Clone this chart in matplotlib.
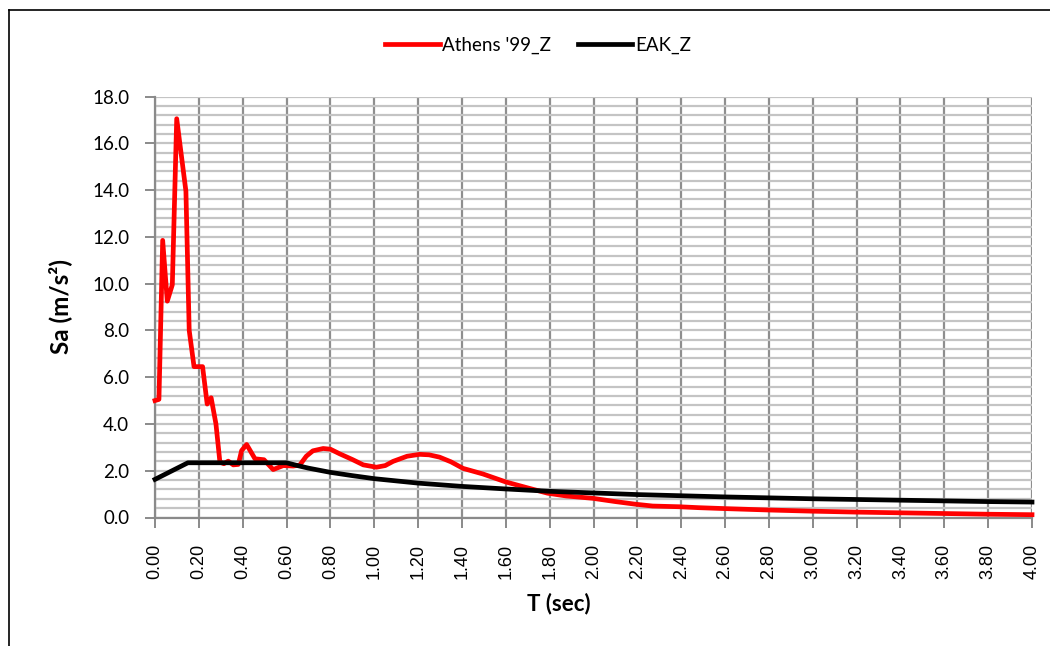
import matplotlib
matplotlib.use("Agg")
import matplotlib.pyplot as plt
from matplotlib.lines import Line2D
from matplotlib.ticker import MultipleLocator, FormatStrFormatter

# Vertical response spectrum of the Athens 1999 record
athens_T = [0.000, 0.018, 0.035, 0.056, 0.079, 0.099, 0.141, 0.156, 0.178, 0.217,
            0.238, 0.256, 0.278, 0.296, 0.314, 0.334, 0.357, 0.380, 0.395, 0.418,
            0.456, 0.497, 0.539, 0.585, 0.630, 0.660, 0.690, 0.720, 0.767, 0.800,
            0.843, 0.900, 0.950, 1.010, 1.050, 1.086, 1.150, 1.207, 1.250, 1.298,
            1.350, 1.405, 1.496, 1.600, 1.710, 1.790, 1.876, 1.997, 2.100, 2.190,
            2.270, 2.390, 2.480, 2.600, 2.800, 3.000, 3.200, 3.400, 3.600, 3.800,
            4.000]
athens_Sa = [5.00, 5.05, 11.85, 9.25, 9.95, 17.05, 13.95, 8.00, 6.45, 6.45,
             4.85, 5.12, 4.00, 2.37, 2.30, 2.41, 2.25, 2.27, 2.86, 3.12,
             2.51, 2.47, 2.05, 2.22, 2.20, 2.24, 2.62, 2.85, 2.95, 2.92,
             2.72, 2.48, 2.25, 2.15, 2.22, 2.40, 2.62, 2.70, 2.68, 2.58,
             2.38, 2.10, 1.86, 1.52, 1.24, 1.04, 0.92, 0.82, 0.68, 0.57,
             0.49, 0.46, 0.42, 0.38, 0.32, 0.27, 0.23, 0.20, 0.17, 0.14,
             0.12]

# Design spectrum (EAK 2000, vertical component)
eak_T = [0.00, 0.15, 0.60, 0.65, 0.70, 0.75, 0.80, 0.90, 1.00, 1.20, 1.40, 1.60,
         1.80, 2.00, 2.20, 2.40, 2.60, 2.80, 3.00, 3.20, 3.40, 3.60, 3.80, 4.00]
eak_Sa = [1.63, 2.34, 2.34, 2.22, 2.11, 2.02, 1.93, 1.79, 1.66, 1.47, 1.33, 1.22,
          1.12, 1.05, 0.98, 0.93, 0.88, 0.84, 0.80, 0.77, 0.74, 0.71, 0.68, 0.66]

series_labels = ["Athens '99_Z", "EAK_Z"]
x_label = "T (sec)"
y_label = "Sa (m/s²)"

W, H = 1050, 646
fig = plt.figure(figsize=(W / 100, H / 100), dpi=100)
ax = fig.add_axes([155 / W, 1 - 517.5 / H, (1032 - 155) / W, (517.5 - 96.5) / H])

# grid: light horizontal lines every 0.4, darker vertical lines every 0.2
ax.set_xlim(0, 4.0)
ax.set_ylim(0, 18.0)
ax.xaxis.set_major_locator(MultipleLocator(0.2))
ax.yaxis.set_major_locator(MultipleLocator(2.0))
ax.yaxis.set_minor_locator(MultipleLocator(0.4))
ax.xaxis.set_major_formatter(FormatStrFormatter("%.2f"))
ax.yaxis.set_major_formatter(FormatStrFormatter("%.1f"))

ax.grid(True, axis="y", which="both", color="#c4c4c4", lw=1.6)
ax.grid(True, axis="x", which="major", color="#8e8e8e", lw=1.6)
ax.set_axisbelow(True)

for s in ("top", "right"):
    ax.spines[s].set_visible(False)
for s in ("left", "bottom"):
    ax.spines[s].set_color("#8a8a8a")
    ax.spines[s].set_linewidth(1.6)

ax.tick_params(axis="both", which="major", length=7, width=1.4, color="#8a8a8a")
ax.tick_params(axis="y", which="minor", length=0)
ax.tick_params(axis="y", labelsize=13.5, pad=11.5)
ax.tick_params(axis="x", labelsize=13, pad=12, labelrotation=90)
for lab in ax.get_yticklabels():
    lab.set_fontfamily("Lato")
for lab in ax.get_xticklabels():
    lab.set_fontfamily("Liberation Sans")

ax.plot(athens_T, athens_Sa, color="#ff0000", lw=3.4, solid_joinstyle="round",
        label=series_labels[0], clip_on=False, zorder=3)
ax.plot(eak_T, eak_Sa, color="#000000", lw=3.4, solid_joinstyle="round",
        label=series_labels[1], clip_on=False, zorder=4)

ax.set_xlabel(x_label, fontfamily="Lato", fontweight="bold", fontsize=16)
ax.set_ylabel(y_label, fontfamily="Lato", fontweight="bold", fontsize=17.5)
ax.xaxis.set_label_coords((559 - 155) / 877, (517.5 - 593) / 421)
ax.yaxis.set_label_coords((72 - 155) / 877, (517.5 - 306) / 421)

fig.legend(loc="center", bbox_to_anchor=(538 / W, 1 - 45 / H), ncol=2,
           frameon=False, prop={"family": "Lato", "size": 13.5},
           handlelength=2.9, handletextpad=0.15, columnspacing=1.4)

# chart-area frame
fig.add_artist(Line2D([8.5 / W, 8.5 / W], [0, 1 - 10 / H], color="black",
                      lw=1.2, transform=fig.transFigure))
fig.add_artist(Line2D([8.5 / W, 1], [1 - 10 / H, 1 - 10 / H], color="black",
                      lw=1.2, transform=fig.transFigure))

fig.savefig("out.png", dpi=100, facecolor="white")
